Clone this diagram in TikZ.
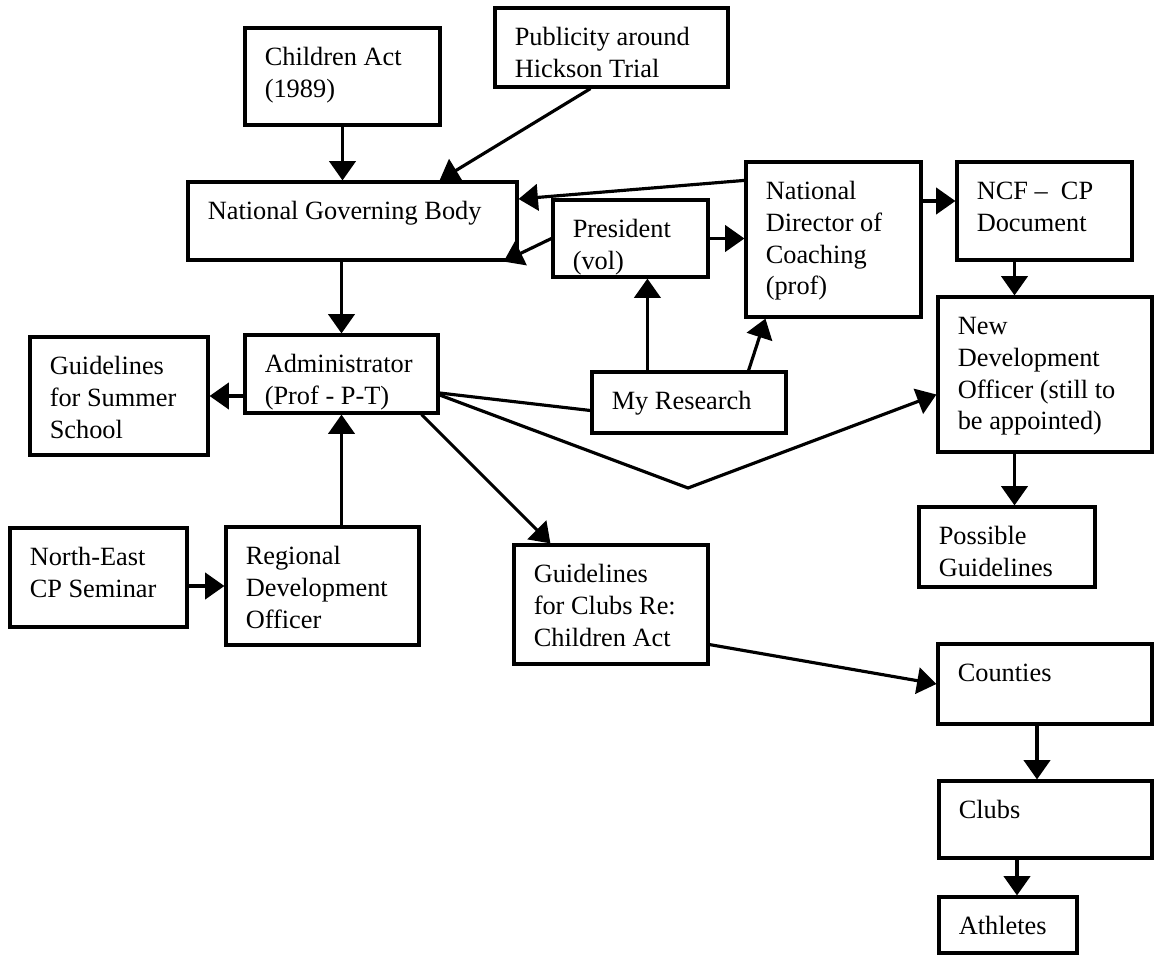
\documentclass[tikz,border=0pt]{standalone}
\usepackage{fontspec}
\setmainfont{Liberation Serif}
\usetikzlibrary{arrows.meta,calc,fit}

% A framed box given by two corners, with its caption set at the top left
\newcommand{\flowbox}[4]{%
  \node[frame, fit={#2 #3}] (#1) {};
  \node[caption] (#1-t) at ($(#1.north west)+(21,17)$) {\strut#4};
}

\begin{document}
\begin{tikzpicture}[x=0.02cm, y=-0.02cm,
  frame/.style={draw, line width=1.8pt, inner sep=0pt},
  caption/.style={anchor=north west, align=left, inner sep=0pt,
                  font=\fontsize{15}{18}\selectfont},
  link/.style={line width=1.8pt},
  arr/.style={link, -{Triangle[length=11pt,width=15pt]}},
]
\useasboundingbox (0,0) rectangle (1155,955);

% Boxes
\flowbox{ca}{(245,28)}{(440,125)}{Children Act\\(1989)}
\flowbox{pub}{(495,8)}{(728,87)}{Publicity around\\Hickson Trial}
\flowbox{ngb}{(188,182)}{(517,260)}{National Governing Body}
\flowbox{pres}{(553,200)}{(708,277)}{President\\(vol)}
\flowbox{ndc}{(746,162)}{(921,317)}{National\\Director of\\Coaching\\(prof)}
\flowbox{ncf}{(957,162)}{(1132,260)}{NCF – \ CP\\Document}
\flowbox{ndo}{(938,297)}{(1152,452)}{New\\Development\\Officer (still to\\be appointed)}
\flowbox{gss}{(30,337)}{(208,455)}{Guidelines\\for Summer\\School}
\flowbox{adm}{(245,335)}{(438,413)}{Administrator\\(Prof - P-T)}
\flowbox{myr}{(592,372)}{(786,433)}{My Research}
\flowbox{pg}{(919,507)}{(1095,587)}{Possible\\Guidelines}
\flowbox{ne}{(10,528)}{(187,627)}{North-East\\CP Seminar}
\flowbox{rdo}{(226,527)}{(419,645)}{Regional\\Development\\Officer}
\flowbox{gc}{(514,545)}{(708,664)}{Guidelines\\for Clubs Re:\\Children Act}
\flowbox{cty}{(938,644)}{(1152,724)}{Counties}
\flowbox{clubs}{(939,781)}{(1152,858)}{Clubs}
\flowbox{ath}{(939,897)}{(1077,953)}{Athletes}

% Helper points for connectors
\coordinate (rp) at ($(myr.north west)+(57,0)$);
\coordinate (nc) at ($(ncf.west)+(0,-10)$);
\coordinate (dx) at ($(ncf.south)+(-30,0)$);
\coordinate (vtx) at (688,488);
\coordinate (cx) at ($(cty.south)+(-8,0)$);
\coordinate (ax) at ($(ath.north)+(9,0)$);

% Connectors
\draw[arr] (ca.south) -- (ca.south |- ngb.north);
\draw[arr] ($(pub.south)+(-21,0)$) -- ($(ngb.north east)+(-79,0)$);
\draw[arr] ($(ndc.north west)+(0,20)$) -- ($(ngb.east)+(0,-22)$);
\draw[arr] (pres.west) -- ($(ngb.south east)+(-15,0)$);
\draw[arr] (pres.east) -- (pres.east -| ndc.west);
\draw[arr] (rp) -- (rp |- pres.south);
\draw[arr] ($(myr.north east)+(-39,0)$) -- ($(ndc.south west)+(21,0)$);
\draw[arr] (ndc.east |- nc) -- (nc);
\draw[arr] (dx) -- (dx |- ndo.north);
\draw[arr] (dx |- ndo.south) -- (dx |- pg.north);
\draw[arr] (adm.north |- ngb.south) -- (adm.north);
\draw[arr] (adm.west |- gss.east) -- (gss.east);
\draw[link] ($(adm.east)+(0,19)$) -- ($(myr.west)+(0,8)$);
\draw[arr] ($(adm.east)+(0,21)$) -- (vtx) -- ($(ndo.west)+(0,20)$);
\draw[arr] ($(adm.south east)+(-18,0)$) -- ($(gc.north west)+(38,0)$);
\draw[arr] (adm.south |- rdo.north) -- (adm.south);
\draw[arr] (ne.east |- rdo.west) -- (rdo.west);
\draw[arr] ($(gc.south east)+(0,-21)$) -- (cty.west);
\draw[arr] (cx) -- (cx |- clubs.north);
\draw[arr] (ax |- clubs.south) -- (ax);
\end{tikzpicture}
\end{document}
